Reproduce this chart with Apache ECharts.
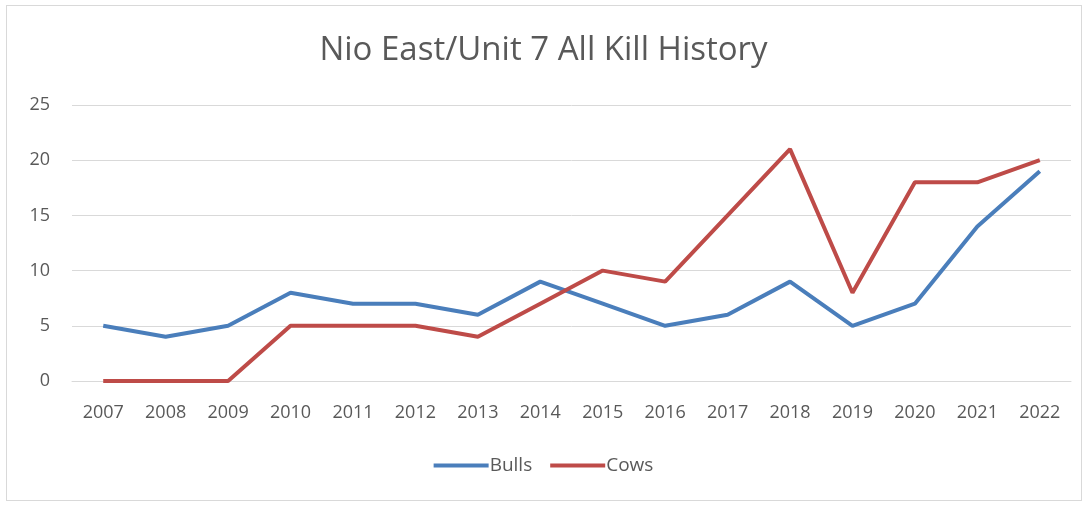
<!DOCTYPE html>
<html>
<head>
<meta charset="utf-8">
<script src="https://cdn.jsdelivr.net/npm/echarts@6/dist/echarts.min.js"></script>
<style>
  html, body { margin: 0; padding: 0; background: #fff; }
  #frame { position: absolute; left: 6px; top: 5px; width: 1074px; height: 494px; border: 1px solid #d9d9d9; }
  #chart { position: absolute; left: 0; top: 0; width: 1087px; height: 506px; }
</style>
</head>
<body>
<div id="frame"></div>
<div id="chart"></div>
<script>
const years = ['2007', '2008', '2009', '2010', '2011', '2012', '2013', '2014',
  '2015', '2016', '2017', '2018', '2019', '2020', '2021', '2022']
const bulls = [5, 4, 5, 8, 7, 7, 6, 9, 7, 5, 6, 9, 5, 7, 14, 19]
const cows = [0, 0, 0, 5, 5, 5, 4, 7, 10, 9, 15, 21, 8, 18, 18, 20]

const txt = '#595959'
const font = 'Open Sans'

let chart = echarts.init(document.getElementById('chart'))
chart.setOption({
  animation: false,
  title: {
    text: 'Nio East/Unit 7 All Kill History',
    left: 'center',
    top: 29,
    textStyle: { color: txt, fontSize: 33, fontWeight: 'normal', fontFamily: font }
  },
  legend: {
    bottom: 26,
    left: 'center',
    itemGap: 18,
    itemWidth: 55,
    itemHeight: 4,
    icon: 'rect',
    textStyle: { color: txt, fontSize: 19, fontFamily: font, padding: [0, 0, 0, -4] },
    data: ['Bulls', 'Cows']
  },
  grid: { left: 72, right: 16, top: 105, bottom: 125 },
  xAxis: {
    type: 'category',
    data: years,
    boundaryGap: true,
    axisLine: { lineStyle: { color: '#d9d9d9' } },
    axisTick: { show: false },
    axisLabel: { color: txt, fontSize: 18, fontFamily: font, margin: 23 }
  },
  yAxis: {
    type: 'value',
    min: 0,
    max: 25,
    interval: 5,
    axisLine: { show: false },
    axisTick: { show: false },
    splitLine: { lineStyle: { color: '#d9d9d9', width: 1 } },
    axisLabel: { color: txt, fontSize: 18, fontFamily: font, margin: 22 }
  },
  series: [
    {
      name: 'Bulls',
      type: 'line',
      data: bulls,
      symbol: 'none',
      itemStyle: { color: '#4A7EBB' },
      lineStyle: { width: 4, color: '#4A7EBB' }
    },
    {
      name: 'Cows',
      type: 'line',
      data: cows,
      symbol: 'none',
      itemStyle: { color: '#BE4B48' },
      lineStyle: { width: 4, color: '#BE4B48' }
    }
  ]
})
</script>
</body>
</html>
